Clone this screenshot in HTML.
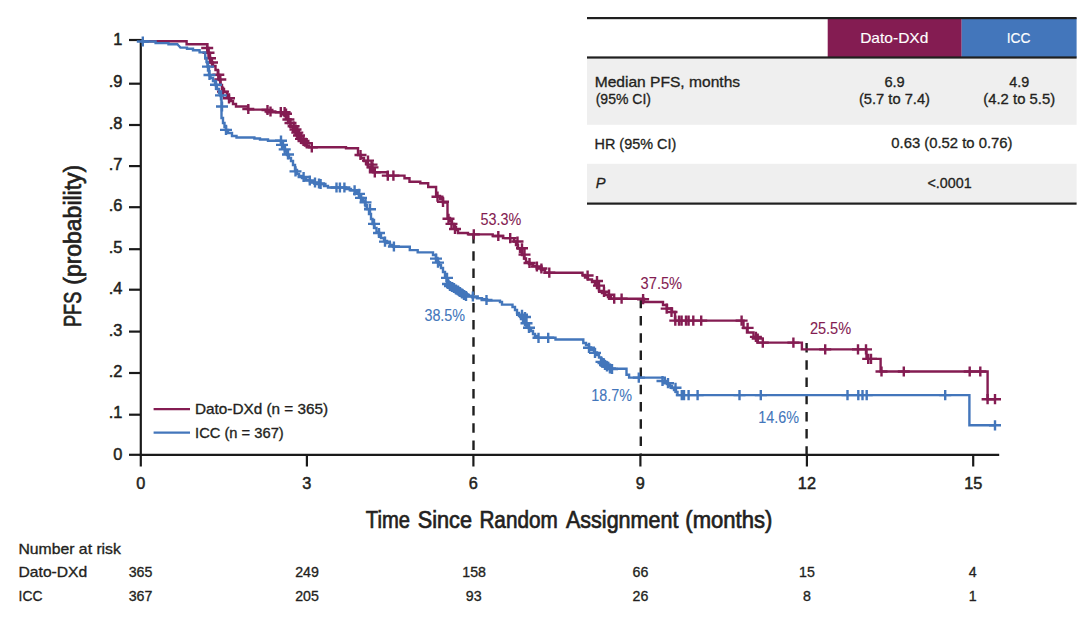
<!DOCTYPE html><html><head><meta charset="utf-8"><style>html,body{margin:0;padding:0;background:#fff;}svg{display:block;}text{font-family:"Liberation Sans",Arial,sans-serif;}</style></head><body>
<svg width="1080" height="618" viewBox="0 0 1080 618">
<rect x="587" y="57.5" width="489.6" height="67.3" fill="#efefef"/>
<rect x="587" y="163.8" width="489.6" height="39" fill="#efefef"/>
<rect x="827.7" y="18" width="134" height="39.5" fill="#841c52"/>
<rect x="961.7" y="18" width="114.9" height="39.5" fill="#4376bb"/>
<rect x="587" y="17" width="489.6" height="2.2" fill="#1f1f1f"/>
<rect x="587" y="56.4" width="489.6" height="2.2" fill="#1f1f1f"/>
<rect x="587" y="202.5" width="489.6" height="2.2" fill="#1f1f1f"/>
<g stroke="#1a1a1a" stroke-width="2.2" fill="none">
<line x1="140.8" y1="39" x2="140.8" y2="455.9"/>
<line x1="139.7" y1="454.8" x2="999.2" y2="454.8"/>
<line x1="129" y1="40.0" x2="140.8" y2="40.0"/>
<line x1="129" y1="83.7" x2="140.8" y2="83.7"/>
<line x1="129" y1="125.0" x2="140.8" y2="125.0"/>
<line x1="129" y1="166.1" x2="140.8" y2="166.1"/>
<line x1="129" y1="207.2" x2="140.8" y2="207.2"/>
<line x1="129" y1="249.2" x2="140.8" y2="249.2"/>
<line x1="129" y1="289.7" x2="140.8" y2="289.7"/>
<line x1="129" y1="331.6" x2="140.8" y2="331.6"/>
<line x1="129" y1="373.0" x2="140.8" y2="373.0"/>
<line x1="129" y1="414.7" x2="140.8" y2="414.7"/>
<line x1="129" y1="454.8" x2="140.8" y2="454.8"/>
<line x1="140.8" y1="454.8" x2="140.8" y2="466.5"/>
<line x1="306.9" y1="454.8" x2="306.9" y2="466.5"/>
<line x1="473.4" y1="454.8" x2="473.4" y2="466.5"/>
<line x1="640.4" y1="454.8" x2="640.4" y2="466.5"/>
<line x1="806.9" y1="454.8" x2="806.9" y2="466.5"/>
<line x1="973.2" y1="454.8" x2="973.2" y2="466.5"/>
</g>
<text x="122.3" y="44.8" text-anchor="end" font-size="16.4" fill="#231f20" stroke="#231f20" stroke-width="0.5">1</text>
<text x="122.3" y="87.4" text-anchor="end" font-size="16.4" fill="#231f20" stroke="#231f20" stroke-width="0.5">.9</text>
<text x="122.3" y="128.9" text-anchor="end" font-size="16.4" fill="#231f20" stroke="#231f20" stroke-width="0.5">.8</text>
<text x="122.3" y="170.1" text-anchor="end" font-size="16.4" fill="#231f20" stroke="#231f20" stroke-width="0.5">.7</text>
<text x="122.3" y="211.1" text-anchor="end" font-size="16.4" fill="#231f20" stroke="#231f20" stroke-width="0.5">.6</text>
<text x="122.3" y="252.9" text-anchor="end" font-size="16.4" fill="#231f20" stroke="#231f20" stroke-width="0.5">.5</text>
<text x="122.3" y="294.2" text-anchor="end" font-size="16.4" fill="#231f20" stroke="#231f20" stroke-width="0.5">.4</text>
<text x="122.3" y="335.6" text-anchor="end" font-size="16.4" fill="#231f20" stroke="#231f20" stroke-width="0.5">.3</text>
<text x="122.3" y="376.9" text-anchor="end" font-size="16.4" fill="#231f20" stroke="#231f20" stroke-width="0.5">.2</text>
<text x="122.3" y="418.1" text-anchor="end" font-size="16.4" fill="#231f20" stroke="#231f20" stroke-width="0.5">.1</text>
<text x="122.3" y="460.3" text-anchor="end" font-size="16.4" fill="#231f20" stroke="#231f20" stroke-width="0.5">0</text>
<text x="140.8" y="488.9" text-anchor="middle" font-size="16.3" fill="#231f20" stroke="#231f20" stroke-width="0.5">0</text>
<text x="306.9" y="488.9" text-anchor="middle" font-size="16.3" fill="#231f20" stroke="#231f20" stroke-width="0.5">3</text>
<text x="473.4" y="488.9" text-anchor="middle" font-size="16.3" fill="#231f20" stroke="#231f20" stroke-width="0.5">6</text>
<text x="640.4" y="488.9" text-anchor="middle" font-size="16.3" fill="#231f20" stroke="#231f20" stroke-width="0.5">9</text>
<text x="806.9" y="488.9" text-anchor="middle" font-size="16.3" fill="#231f20" stroke="#231f20" stroke-width="0.5">12</text>
<text x="973.2" y="488.9" text-anchor="middle" font-size="16.3" fill="#231f20" stroke="#231f20" stroke-width="0.5">15</text>
<line x1="473.5" y1="234.1" x2="473.5" y2="454.8" stroke="#1f1f1f" stroke-width="2.4" stroke-dasharray="9.5 7.7"/>
<line x1="640.8" y1="298.8" x2="640.8" y2="454.8" stroke="#1f1f1f" stroke-width="2.4" stroke-dasharray="9.5 7.7"/>
<line x1="806.6" y1="343.1" x2="806.6" y2="454.8" stroke="#1f1f1f" stroke-width="2.4" stroke-dasharray="9.5 7.7"/>
<path d="M140.8 41.3L186.6 41.3L186.6 44.2L207.2 44.2L207.2 48.0L208.4 48.0L208.4 53.0L209.6 53.0L209.6 58.0L210.6 58.0L210.6 62.5L213.0 62.5L213.0 66.0L215.5 66.0L215.5 70.0L217.8 70.0L217.8 75.0L219.3 75.0L219.3 80.0L220.5 80.0L220.5 85.0L222.0 85.0L222.0 89.0L224.0 89.0L224.0 92.0L227.0 92.0L227.0 96.0L229.0 96.0L229.0 98.5L231.0 98.5L231.0 101.0L233.0 101.0L233.0 104.0L236.0 104.0L236.0 106.5L248.0 106.5L248.0 109.6L267.0 109.6L267.0 112.2L283.5 112.2L283.5 115.0L286.0 115.0L286.0 119.0L288.0 119.0L288.0 123.0L290.5 123.0L290.5 127.0L293.0 127.0L293.0 131.0L296.0 131.0L296.0 135.0L298.5 135.0L298.5 139.0L301.5 139.0L301.5 142.5L305.0 142.5L305.0 145.5L309.0 145.5L309.0 147.3L346.0 147.3L346.0 148.3L358.0 148.3L358.0 155.0L361.0 155.0L361.0 158.0L364.0 158.0L364.0 161.0L366.0 161.0L366.0 164.0L368.0 164.0L368.0 167.0L370.0 167.0L370.0 170.0L373.0 170.0L373.0 172.3L387.5 172.3L387.5 175.6L404.5 175.6L404.5 178.2L409.5 178.2L409.5 181.7L420.3 181.7L420.3 183.3L428.2 183.3L428.2 187.0L436.1 187.0L436.1 196.0L440.0 196.0L440.0 199.0L443.0 199.0L443.0 202.5L447.5 202.5L447.5 218.0L450.0 218.0L450.0 221.0L452.0 221.0L452.0 224.0L454.0 224.0L454.0 227.0L456.0 227.0L456.0 230.0L458.0 230.0L458.0 233.0L468.0 233.0L468.0 234.4L492.7 234.4L492.7 236.0L503.0 236.0L503.0 238.1L514.2 238.1L514.2 241.5L516.0 241.5L516.0 245.0L518.0 245.0L518.0 248.5L520.0 248.5L520.0 252.0L522.0 252.0L522.0 255.0L524.0 255.0L524.0 258.5L526.0 258.5L526.0 262.0L529.0 262.0L529.0 264.0L533.0 264.0L533.0 266.0L537.0 266.0L537.0 268.0L541.0 268.0L541.0 270.0L545.0 270.0L545.0 272.7L582.5 272.7L582.5 275.0L585.0 275.0L585.0 277.5L588.0 277.5L588.0 279.5L592.0 279.5L592.0 282.0L595.0 282.0L595.0 285.0L597.0 285.0L597.0 288.0L599.0 288.0L599.0 291.0L602.0 291.0L602.0 293.0L605.0 293.0L605.0 295.0L608.0 295.0L608.0 297.0L611.0 297.0L611.0 298.7L644.0 298.7L644.0 302.0L663.0 302.0L663.0 305.0L667.0 305.0L667.0 308.5L672.0 308.5L672.0 312.0L675.0 312.0L675.0 320.6L741.6 320.6L743.5 320.6L743.5 328.0L747.0 328.0L747.0 332.5L753.5 332.5L753.5 337.0L757.5 337.0L757.5 342.6L801.9 342.6L801.9 349.4L866.5 349.4L866.5 358.9L880.6 358.9L880.6 371.5L987.6 371.5L987.6 399.2L995.0 399.2" fill="none" stroke="#841c52" stroke-width="2.4" stroke-linejoin="miter"/>
<path d="M201.2 48.0h12.0M207.2 42.9v10.2M202.5 52.8h12.0M208.5 47.7v10.2M204.0 58.2h12.0M210.0 53.1v10.2M206.0 62.5h12.0M212.0 57.4v10.2M212.3 74.7h12.0M218.3 69.6v10.2M214.3 79.5h12.0M220.3 74.4v10.2M217.0 91.6h12.0M223.0 86.5v10.2M223.0 98.3h12.0M229.0 93.2v10.2M242.3 109.0h12.0M248.3 103.9v10.2M261.5 110.0h12.0M267.5 104.9v10.2M264.5 111.5h12.0M270.5 106.4v10.2M274.8 112.2h12.0M280.8 107.1v10.2M278.6 112.2h12.0M284.6 107.1v10.2M280.0 113.7h12.0M286.0 108.6v10.2M282.4 119.5h12.0M288.4 114.4v10.2M287.6 126.3h12.0M293.6 121.2v10.2M291.3 132.6h12.0M297.3 127.5v10.2M295.0 138.9h12.0M301.0 133.8v10.2M300.7 143.1h12.0M306.7 138.0v10.2M305.8 147.3h12.0M311.8 142.2v10.2M284.5 123.0h12.0M290.5 117.9v10.2M289.5 129.5h12.0M295.5 124.4v10.2M293.0 135.5h12.0M299.0 130.4v10.2M297.5 141.0h12.0M303.5 135.9v10.2M354.5 155.0h12.0M360.5 149.9v10.2M362.0 160.6h12.0M368.0 155.5v10.2M365.5 164.6h12.0M371.5 159.5v10.2M366.5 167.4h12.0M372.5 162.3v10.2M368.8 172.3h12.0M374.8 167.2v10.2M381.8 175.6h12.0M387.8 170.5v10.2M387.4 175.6h12.0M393.4 170.5v10.2M431.5 196.7h12.0M437.5 191.6v10.2M437.0 201.8h12.0M443.0 196.7v10.2M442.5 218.8h12.0M448.5 213.7v10.2M445.5 223.9h12.0M451.5 218.8v10.2M449.0 229.0h12.0M455.0 223.9v10.2M467.8 234.4h12.0M473.8 229.3v10.2M492.3 236.0h12.0M498.3 230.9v10.2M504.2 238.1h12.0M510.2 233.0v10.2M511.5 241.5h12.0M517.5 236.4v10.2M516.0 248.3h12.0M522.0 243.2v10.2M518.5 254.6h12.0M524.5 249.5v10.2M523.5 263.0h12.0M529.5 257.9v10.2M530.9 266.5h12.0M536.9 261.4v10.2M535.4 268.5h12.0M541.4 263.4v10.2M543.3 272.7h12.0M549.3 267.6v10.2M581.6 275.5h12.0M587.6 270.4v10.2M591.0 281.0h12.0M597.0 275.9v10.2M593.0 285.6h12.0M599.0 280.5v10.2M598.0 291.8h12.0M604.0 286.7v10.2M603.0 294.7h12.0M609.0 289.6v10.2M608.2 298.7h12.0M614.2 293.6v10.2M615.6 298.7h12.0M621.6 293.6v10.2M637.1 299.2h12.0M643.1 294.1v10.2M660.7 308.6h12.0M666.7 303.5v10.2M665.5 312.0h12.0M671.5 306.9v10.2M669.3 320.6h12.0M675.3 315.5v10.2M673.0 320.6h12.0M679.0 315.5v10.2M675.6 320.6h12.0M681.6 315.5v10.2M680.0 320.6h12.0M686.0 315.5v10.2M682.6 320.6h12.0M688.6 315.5v10.2M687.3 320.6h12.0M693.3 315.5v10.2M695.2 320.6h12.0M701.2 315.5v10.2M735.6 320.6h12.0M741.6 315.5v10.2M741.6 327.9h12.0M747.6 322.8v10.2M749.9 336.9h12.0M755.9 331.8v10.2M751.7 338.5h12.0M757.7 333.4v10.2M756.8 342.6h12.0M762.8 337.5v10.2M787.4 342.6h12.0M793.4 337.5v10.2M819.2 349.4h12.0M825.2 344.3v10.2M852.0 349.4h12.0M858.0 344.3v10.2M860.0 349.4h12.0M866.0 344.3v10.2M862.2 358.9h12.0M868.2 353.8v10.2M865.0 358.9h12.0M871.0 353.8v10.2M875.5 371.5h12.0M881.5 366.4v10.2M897.8 371.5h12.0M903.8 366.4v10.2M963.7 371.5h12.0M969.7 366.4v10.2M974.3 371.5h12.0M980.3 366.4v10.2M981.6 399.2h12.0M987.6 394.1v10.2M989.0 399.2h12.0M995.0 394.1v10.2" fill="none" stroke="#841c52" stroke-width="2.4"/>
<path d="M140.8 41.5L155.6 41.5L155.6 43.1L168.5 43.1L168.5 44.3L177.4 44.3L178.5 45.5L179.5 46.5L180.4 47.6L187.0 47.6L187.0 48.7L193.0 48.7L193.0 50.2L199.6 50.2L199.6 52.4L205.2 52.4L205.2 58.0L206.5 58.0L206.5 62.0L207.5 62.0L207.5 66.5L209.0 66.5L209.0 75.0L210.5 75.0L210.5 78.0L213.0 78.0L213.0 81.0L215.0 81.0L215.0 85.0L217.0 85.0L217.0 89.0L219.0 89.0L219.0 93.0L220.6 93.0L220.6 96.0L221.5 96.0L221.5 118.0L223.0 118.0L223.0 123.0L224.5 123.0L224.5 127.0L226.0 127.0L226.0 130.0L228.0 130.0L228.0 133.0L232.0 133.0L232.0 136.0L236.5 136.0L236.5 137.5L254.4 137.5L254.4 138.5L260.0 138.5L260.0 139.5L268.0 139.5L268.0 140.7L281.0 140.7L281.0 143.0L283.0 143.0L283.0 147.0L285.0 147.0L285.0 151.0L287.0 151.0L287.0 155.0L289.0 155.0L289.0 158.0L291.0 158.0L291.0 161.0L293.0 161.0L293.0 165.0L295.0 165.0L295.0 170.0L297.0 170.0L297.0 174.0L299.0 174.0L299.0 176.0L302.0 176.0L302.0 178.0L306.0 178.0L306.0 180.0L310.0 180.0L310.0 182.0L314.0 182.0L314.0 183.0L319.0 183.0L319.0 184.0L324.0 184.0L324.0 186.0L328.0 186.0L328.0 187.5L346.0 187.5L346.0 189.0L351.0 189.0L351.0 190.3L356.0 190.3L356.0 192.0L359.0 192.0L359.0 195.0L361.0 195.0L361.0 198.0L363.0 198.0L363.0 201.0L365.0 201.0L365.0 205.0L367.0 205.0L367.0 209.0L369.0 209.0L369.0 214.0L371.0 214.0L371.0 219.0L372.5 219.0L372.5 224.0L374.5 224.0L374.5 228.0L376.5 228.0L376.5 232.0L379.0 232.0L379.0 235.0L381.0 235.0L381.0 238.0L384.0 238.0L384.0 241.0L387.0 241.0L387.0 243.0L390.0 243.0L390.0 245.0L393.0 245.0L393.0 246.8L409.8 246.8L409.8 250.1L417.7 250.1L417.7 252.4L433.0 252.4L433.0 255.0L436.0 255.0L436.0 258.0L437.5 258.0L437.5 262.0L439.0 262.0L439.0 265.0L441.0 265.0L441.0 268.0L443.0 268.0L443.0 272.0L445.0 272.0L445.0 276.0L446.5 276.0L446.5 281.0L448.5 281.0L448.5 285.0L451.0 285.0L451.0 287.0L454.0 287.0L454.0 289.0L458.0 289.0L458.0 291.0L461.0 291.0L461.0 293.0L464.0 293.0L464.0 294.5L468.0 294.5L468.0 296.0L472.0 296.0L472.0 297.2L477.0 297.2L477.0 298.3L482.0 298.3L482.0 299.3L487.0 299.3L487.0 300.6L500.0 300.6L500.0 302.0L502.0 302.0L502.0 304.6L512.5 304.6L512.5 307.0L515.0 307.0L515.0 310.0L517.0 310.0L517.0 313.0L519.0 313.0L519.0 316.0L521.0 316.0L521.0 319.0L523.0 319.0L523.0 322.0L525.0 322.0L525.0 325.0L527.0 325.0L527.0 327.0L529.0 327.0L529.0 329.0L531.0 329.0L531.0 331.0L533.0 331.0L533.0 334.0L535.0 334.0L535.0 336.0L537.0 336.0L537.0 337.8L555.5 337.8L555.5 339.5L583.3 339.5L583.3 343.0L586.0 343.0L586.0 345.0L589.0 345.0L589.0 347.5L591.0 347.5L591.0 350.0L594.0 350.0L594.0 352.5L597.0 352.5L597.0 355.0L599.0 355.0L599.0 357.5L601.0 357.5L601.0 360.0L604.0 360.0L604.0 362.5L607.0 362.5L607.0 365.0L610.0 365.0L610.0 368.7L626.5 368.7L626.5 374.7L629.1 374.7L629.1 377.6L664.8 377.6L664.8 382.0L667.0 382.0L667.0 384.0L670.0 384.0L670.0 386.0L672.0 386.0L672.0 388.0L674.0 388.0L674.0 390.0L676.0 390.0L676.0 392.0L677.5 392.0L677.5 395.1L969.4 395.1L969.4 425.3L995.0 425.3" fill="none" stroke="#4376bb" stroke-width="2.4" stroke-linejoin="miter"/>
<path d="M136.8 41.5h12.0M142.8 36.4v10.2M202.0 66.6h12.0M208.0 61.5v10.2M203.5 75.0h12.0M209.5 69.9v10.2M210.0 84.8h12.0M216.0 79.7v10.2M215.0 95.4h12.0M221.0 90.3v10.2M216.0 106.5h12.0M222.0 101.4v10.2M220.0 129.9h12.0M226.0 124.8v10.2M275.0 140.7h12.0M281.0 135.6v10.2M276.0 144.9h12.0M282.0 139.8v10.2M278.7 149.4h12.0M284.7 144.3v10.2M282.0 154.5h12.0M288.0 149.4v10.2M289.5 171.4h12.0M295.5 166.3v10.2M297.6 177.0h12.0M303.6 171.9v10.2M303.8 180.5h12.0M309.8 175.4v10.2M309.0 182.5h12.0M315.0 177.4v10.2M313.0 183.5h12.0M319.0 178.4v10.2M314.6 184.0h12.0M320.6 178.9v10.2M330.5 187.5h12.0M336.5 182.4v10.2M333.9 187.5h12.0M339.9 182.4v10.2M338.4 187.5h12.0M344.4 182.4v10.2M348.6 190.3h12.0M354.6 185.2v10.2M353.0 193.9h12.0M359.0 188.8v10.2M355.0 197.9h12.0M361.0 192.8v10.2M359.5 202.4h12.0M365.5 197.3v10.2M364.0 209.2h12.0M370.0 204.1v10.2M368.0 223.9h12.0M374.0 218.8v10.2M373.0 233.0h12.0M379.0 227.9v10.2M379.0 241.6h12.0M385.0 236.5v10.2M387.9 246.5h12.0M393.9 241.4v10.2M430.0 258.6h12.0M436.0 253.5v10.2M432.0 262.6h12.0M438.0 257.5v10.2M441.0 277.9h12.0M447.0 272.8v10.2M442.0 284.0h12.0M448.0 278.9v10.2M444.0 286.0h12.0M450.0 280.9v10.2M446.0 287.0h12.0M452.0 281.9v10.2M448.0 288.0h12.0M454.0 282.9v10.2M450.0 289.5h12.0M456.0 284.4v10.2M452.0 290.5h12.0M458.0 285.4v10.2M454.0 292.0h12.0M460.0 286.9v10.2M456.0 293.5h12.0M462.0 288.4v10.2M458.0 295.0h12.0M464.0 289.9v10.2M460.0 296.0h12.0M466.0 290.9v10.2M466.9 296.5h12.0M472.9 291.4v10.2M480.5 300.0h12.0M486.5 294.9v10.2M516.0 314.8h12.0M522.0 309.7v10.2M519.0 317.0h12.0M525.0 311.9v10.2M520.5 323.3h12.0M526.5 318.2v10.2M523.0 327.8h12.0M529.0 322.7v10.2M532.5 337.8h12.0M538.5 332.7v10.2M542.2 337.8h12.0M548.2 332.7v10.2M583.0 347.8h12.0M589.0 342.7v10.2M589.0 352.9h12.0M595.0 347.8v10.2M595.5 361.9h12.0M601.5 356.8v10.2M597.5 363.0h12.0M603.5 357.9v10.2M599.0 365.0h12.0M605.0 359.9v10.2M601.0 366.5h12.0M607.0 361.4v10.2M603.9 368.5h12.0M609.9 363.4v10.2M606.0 369.0h12.0M612.0 363.9v10.2M632.8 377.6h12.0M638.8 372.5v10.2M656.5 381.0h12.0M662.5 375.9v10.2M662.0 383.2h12.0M668.0 378.1v10.2M669.5 387.8h12.0M675.5 382.7v10.2M675.8 395.1h12.0M681.8 390.0v10.2M678.0 395.1h12.0M684.0 390.0v10.2M682.6 395.1h12.0M688.6 390.0v10.2M691.6 395.1h12.0M697.6 390.0v10.2M733.5 395.1h12.0M739.5 390.0v10.2M754.8 395.1h12.0M760.8 390.0v10.2M841.5 395.1h12.0M847.5 390.0v10.2M852.3 395.1h12.0M858.3 390.0v10.2M856.5 395.1h12.0M862.5 390.0v10.2M860.7 395.1h12.0M866.7 390.0v10.2M939.2 395.1h12.0M945.2 390.0v10.2M989.0 425.3h12.0M995.0 420.2v10.2" fill="none" stroke="#4376bb" stroke-width="2.4"/>
<line x1="153.6" y1="409.1" x2="190" y2="409.1" stroke="#841c52" stroke-width="2.4"/>
<line x1="153.6" y1="432.6" x2="190" y2="432.6" stroke="#4376bb" stroke-width="2.4"/>
<text x="140.5" y="577.3" text-anchor="middle" font-size="14.2" fill="#231f20" stroke="#231f20" stroke-width="0.32">365</text>
<text x="307.0" y="577.3" text-anchor="middle" font-size="14.2" fill="#231f20" stroke="#231f20" stroke-width="0.32">249</text>
<text x="474.1" y="577.3" text-anchor="middle" font-size="14.2" fill="#231f20" stroke="#231f20" stroke-width="0.32">158</text>
<text x="640.4" y="577.3" text-anchor="middle" font-size="14.2" fill="#231f20" stroke="#231f20" stroke-width="0.32">66</text>
<text x="807.0" y="577.3" text-anchor="middle" font-size="14.2" fill="#231f20" stroke="#231f20" stroke-width="0.32">15</text>
<text x="972.8" y="577.3" text-anchor="middle" font-size="14.2" fill="#231f20" stroke="#231f20" stroke-width="0.32">4</text>
<text x="140.5" y="600.6" text-anchor="middle" font-size="14.2" fill="#231f20" stroke="#231f20" stroke-width="0.32">367</text>
<text x="307.0" y="600.6" text-anchor="middle" font-size="14.2" fill="#231f20" stroke="#231f20" stroke-width="0.32">205</text>
<text x="473.7" y="600.6" text-anchor="middle" font-size="14.2" fill="#231f20" stroke="#231f20" stroke-width="0.32">93</text>
<text x="640.4" y="600.6" text-anchor="middle" font-size="14.2" fill="#231f20" stroke="#231f20" stroke-width="0.32">26</text>
<text x="807.0" y="600.6" text-anchor="middle" font-size="14.2" fill="#231f20" stroke="#231f20" stroke-width="0.32">8</text>
<text x="972.8" y="600.6" text-anchor="middle" font-size="14.2" fill="#231f20" stroke="#231f20" stroke-width="0.32">1</text>
<text x="860.16" y="42.90" font-size="15.0" textLength="68.19" lengthAdjust="spacingAndGlyphs" fill="#ffffff" stroke="#ffffff" stroke-width="0.15">Dato-DXd</text>
<text x="1006.68" y="42.90" font-size="15.0" textLength="23.77" lengthAdjust="spacingAndGlyphs" fill="#ffffff" stroke="#ffffff" stroke-width="0.15">ICC</text>
<text x="594.66" y="86.70" font-size="15.0" textLength="145.46" lengthAdjust="spacingAndGlyphs" fill="#231f20" stroke="#231f20" stroke-width="0.32">Median PFS, months</text>
<text x="595.70" y="104.30" font-size="15.0" textLength="55.30" lengthAdjust="spacingAndGlyphs" fill="#231f20" stroke="#231f20" stroke-width="0.32">(95% CI)</text>
<text x="884.40" y="87.30" font-size="15.0" textLength="20.33" lengthAdjust="spacingAndGlyphs" fill="#231f20" stroke="#231f20" stroke-width="0.32">6.9</text>
<text x="858.90" y="104.40" font-size="15.0" textLength="71.10" lengthAdjust="spacingAndGlyphs" fill="#231f20" stroke="#231f20" stroke-width="0.32">(5.7 to 7.4)</text>
<text x="1009.30" y="87.30" font-size="15.0" textLength="19.93" lengthAdjust="spacingAndGlyphs" fill="#231f20" stroke="#231f20" stroke-width="0.32">4.9</text>
<text x="983.30" y="104.40" font-size="15.0" textLength="71.80" lengthAdjust="spacingAndGlyphs" fill="#231f20" stroke="#231f20" stroke-width="0.32">(4.2 to 5.5)</text>
<text x="594.54" y="148.70" font-size="15.0" textLength="81.66" lengthAdjust="spacingAndGlyphs" fill="#231f20" stroke="#231f20" stroke-width="0.32">HR (95% CI)</text>
<text x="891.30" y="148.40" font-size="15.0" textLength="121.20" lengthAdjust="spacingAndGlyphs" fill="#231f20" stroke="#231f20" stroke-width="0.32">0.63 (0.52 to 0.76)</text>
<text x="595.80" y="187.90" font-size="15.0" textLength="9.80" lengthAdjust="spacingAndGlyphs" fill="#231f20" stroke="#231f20" stroke-width="0.32" font-style="italic">P</text>
<text x="927.50" y="188.20" font-size="15.0" textLength="44.13" lengthAdjust="spacingAndGlyphs" fill="#231f20" stroke="#231f20" stroke-width="0.32">&lt;.0001</text>
<text x="195.02" y="414.10" font-size="14.2" textLength="133.16" lengthAdjust="spacingAndGlyphs" fill="#231f20" stroke="#231f20" stroke-width="0.32">Dato-DXd (n = 365)</text>
<text x="195.06" y="437.80" font-size="14.2" textLength="88.69" lengthAdjust="spacingAndGlyphs" fill="#231f20" stroke="#231f20" stroke-width="0.32">ICC (n = 367)</text>
<text x="480.60" y="225.10" font-size="15.8" textLength="40.74" lengthAdjust="spacingAndGlyphs" fill="#841c52" stroke="#841c52" stroke-width="0.10">53.3%</text>
<text x="424.40" y="321.00" font-size="15.8" textLength="40.74" lengthAdjust="spacingAndGlyphs" fill="#4376bb" stroke="#4376bb" stroke-width="0.10">38.5%</text>
<text x="640.60" y="289.30" font-size="15.8" textLength="41.54" lengthAdjust="spacingAndGlyphs" fill="#841c52" stroke="#841c52" stroke-width="0.10">37.5%</text>
<text x="591.19" y="401.30" font-size="15.8" textLength="40.75" lengthAdjust="spacingAndGlyphs" fill="#4376bb" stroke="#4376bb" stroke-width="0.10">18.7%</text>
<text x="809.90" y="334.40" font-size="15.8" textLength="41.24" lengthAdjust="spacingAndGlyphs" fill="#841c52" stroke="#841c52" stroke-width="0.10">25.5%</text>
<text x="758.19" y="423.00" font-size="15.8" textLength="40.75" lengthAdjust="spacingAndGlyphs" fill="#4376bb" stroke="#4376bb" stroke-width="0.10">14.6%</text>
<text x="18.49" y="554.20" font-size="14.2" textLength="102.40" lengthAdjust="spacingAndGlyphs" fill="#231f20" stroke="#231f20" stroke-width="0.32">Number at risk</text>
<text x="18.50" y="577.20" font-size="14.2" textLength="68.79" lengthAdjust="spacingAndGlyphs" fill="#231f20" stroke="#231f20" stroke-width="0.32">Dato-DXd</text>
<text x="18.62" y="600.60" font-size="14.2" textLength="23.92" lengthAdjust="spacingAndGlyphs" fill="#231f20" stroke="#231f20" stroke-width="0.32">ICC</text>
<text x="365.80" y="527.90" font-size="23.5" textLength="44.16" lengthAdjust="spacingAndGlyphs" fill="#231f20" stroke="#231f20" stroke-width="0.70">Time</text>
<text x="417.78" y="527.90" font-size="23.5" textLength="54.19" lengthAdjust="spacingAndGlyphs" fill="#231f20" stroke="#231f20" stroke-width="0.70">Since</text>
<text x="479.42" y="527.90" font-size="23.5" textLength="78.29" lengthAdjust="spacingAndGlyphs" fill="#231f20" stroke="#231f20" stroke-width="0.70">Random</text>
<text x="566.00" y="527.90" font-size="23.5" textLength="112.37" lengthAdjust="spacingAndGlyphs" fill="#231f20" stroke="#231f20" stroke-width="0.70">Assignment</text>
<text x="685.36" y="527.90" font-size="23.5" textLength="86.91" lengthAdjust="spacingAndGlyphs" fill="#231f20" stroke="#231f20" stroke-width="0.70">(months)</text>
<text transform="translate(80.8,326.20) rotate(-90)" x="-0.77" y="0" font-size="23.5" textLength="35.19" lengthAdjust="spacingAndGlyphs" fill="#231f20" stroke="#231f20" stroke-width="0.7">PFS</text>
<text transform="translate(80.8,283.80) rotate(-90)" x="-0.98" y="0" font-size="23.5" textLength="119.98" lengthAdjust="spacingAndGlyphs" fill="#231f20" stroke="#231f20" stroke-width="0.7">(probability)</text>
</svg></body></html>
